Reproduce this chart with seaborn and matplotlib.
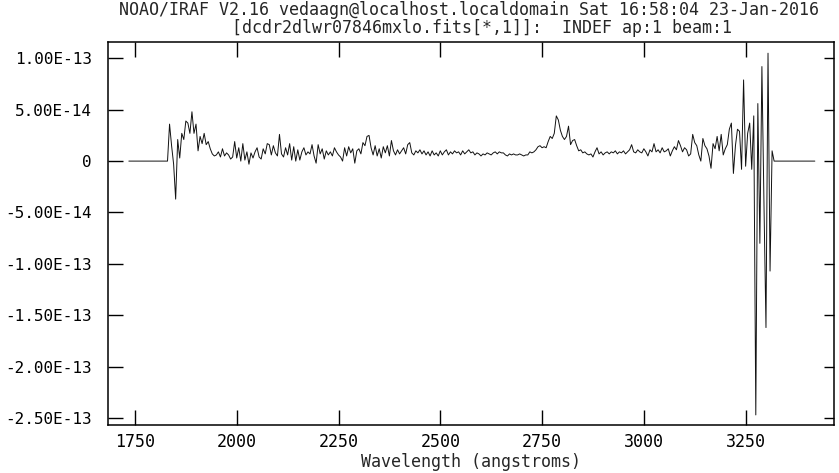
import numpy as np
import pandas as pd
import seaborn as sns
import matplotlib.pyplot as plt

# Spectrum sampling (angstroms)
wl_start = 1735.0
wl_step = 5.0

# Flux in units of 1e-14 erg/cm2/s/A
flux_e14 = (
    [0.0] * 19
    + [0.0, 3.6, 1.5, -0.3, -3.7, 2.1, 0.3, 2.7, 2.1, 3.9, 3.7, 2.7, 4.8, 2.7, 3.6, 1.0,
       2.4, 1.7, 2.7, 1.6, 1.9, 1.2, 0.7, 0.5]
    + [0.6, 0.9, 0.4, 1.2, 0.5, 0.8, 0.6, 0.2, 0.4, 1.9, 0.3, 1.3, 0.0, 1.7, 0.1, 0.9,
       -0.3, 0.8, 0.3, 0.9, 1.3, 0.4, 0.2, 1.2, 0.7, 1.7, 1.6, 0.6, 1.5, 0.8, 0.5, 2.6,
       0.7, 0.4, 1.3, 0.6, 1.7, 0.1, 1.4, 0.0, 1.1, 0.1, 0.9, 1.3, 0.6, 0.9, 0.7, 1.6,
       0.5, -0.2, 1.6, 0.7, 1.2, 0.2, 1.0, 0.6, 0.9, 0.5, 1.3]
    + [0.9, 0.6, 0.4, 0.0, 1.3, 0.5, 1.4, 0.8, 1.2, -0.2, 1.0, 1.2, 0.7, 1.8, 1.5, 2.4,
       2.5, 1.3, 0.6, 1.5, 0.5, 1.2, 0.3, 1.4, 0.8, 1.5, 0.5, 2.0, 1.0, 0.6, 1.1, 0.7,
       1.0, 1.3, 0.7, 1.6, 1.8, 0.8, 0.6, 1.0, 0.8, 1.1, 0.7, 1.0, 0.6, 0.9, 0.5, 1.0,
       0.6, 0.8, 0.5, 1.0, 0.6, 0.9, 1.1, 0.6, 0.9, 0.7, 1.0, 0.8, 0.9, 0.6, 1.0, 0.7,
       0.9, 1.1, 0.8, 0.9, 0.6, 0.8, 0.7, 0.5, 0.7, 0.6, 0.8, 0.7, 0.6, 0.8, 0.9, 0.7,
       0.9, 0.8]
    + [0.8, 0.6, 0.5, 0.7, 0.6, 0.7, 0.6, 0.6, 0.7, 0.6, 0.5, 0.6, 0.6, 0.9, 0.8, 0.9,
       1.1, 1.4, 1.5, 1.3, 1.4, 1.3, 1.9, 2.4, 2.2, 2.7, 4.4, 4.0, 3.0, 2.4, 2.1, 2.4,
       3.4, 1.6, 2.0, 2.1, 1.5, 1.0, 1.1, 0.8, 0.9, 0.7, 0.6, 0.7, 0.4, 0.9, 1.3, 0.7,
       0.9, 0.6, 0.8, 0.9, 0.7, 0.9, 0.8, 1.0]
    + [0.7, 0.9, 0.8, 1.0, 0.7, 0.9, 1.1, 1.6, 0.9, 0.8, 1.1, 0.9, 0.8, 1.2, 0.9, 0.5,
       1.1, 0.9, 1.7, 0.9, 1.1, 0.8, 1.3, 0.9, 1.0, 1.2, 0.5, 1.0, 1.4, 1.1, 2.0, 1.5,
       0.9, 1.3, 1.1, 0.5, 0.7, 2.6, 1.8, 1.5, 0.6, 0.0, 2.2, 1.5, 1.2, 0.5, -0.7, 1.7,
       1.2, 2.4, 1.0, 2.6, 0.6, 1.2, 1.6, 3.1, 3.7, -1.2, 1.5, 3.1, 2.9, -0.8]
    + [7.9, -0.5, 2.7, 3.7, -0.8, 4.4, -24.7, 5.6, -8.0, 9.2, -4.0, -16.2, 10.5, -10.7, 1.0]
    + [0.0] * 21
)

xticks = [1750, 2000, 2250, 2500, 2750, 3000, 3250]
yticks = [1e-13, 5e-14, 0, -5e-14, -1e-13, -1.5e-13, -2e-13, -2.5e-13]
ytick_labels = ['1.00E-13', '5.00E-14', '0', '-5.00E-14', '-1.00E-13',
                '-1.50E-13', '-2.00E-13', '-2.50E-13']

title_1 = 'NOAO/IRAF V2.16 vedaagn@localhost.localdomain Sat 16:58:04 23-Jan-2016'
title_2 = '[dcdr2dlwr07846mxlo.fits[*,1]]:  INDEF ap:1 beam:1'

wl = wl_start + wl_step * np.arange(len(flux_e14))
df = pd.DataFrame({'wavelength': wl, 'flux': np.array(flux_e14) * 1e-14})

sns.set_style('ticks')
plt.rcParams['font.family'] = ['DejaVu Sans Mono']

fig = plt.figure(figsize=(8.39, 4.73), dpi=100)
ax = fig.add_axes([0.1293, 0.1015, 0.8647, 0.8097])

sns.lineplot(data=df, x='wavelength', y='flux', ax=ax, color='#111111',
             linewidth=0.7, estimator=None, sort=False)

ax.set_xlim(1685, 3467)
ax.set_ylim(-2.568e-13, 1.159e-13)
ax.set_xticks(xticks)
ax.set_yticks(yticks)
ax.set_yticklabels(ytick_labels)
ax.tick_params(axis='both', direction='in', length=11, width=1, top=True, right=True,
               colors='black')
ax.tick_params(axis='x', labelsize=12, pad=6)
ax.tick_params(axis='y', labelsize=11.5, pad=12)
for t in ax.yaxis.get_major_ticks():
    t.tick2line.set_markersize(7)
for s in ax.spines.values():
    s.set_linewidth(1.1)
    s.set_color('black')

ax.set_xlabel('Wavelength (angstroms)', fontsize=12, labelpad=1)
ax.set_ylabel('')

fig.text(0.559, 0.9685, title_1, ha='center', va='baseline', fontsize=12)
fig.text(0.575, 0.9300, title_2, ha='center', va='baseline', fontsize=12)

fig.savefig('out.png', dpi=100)
